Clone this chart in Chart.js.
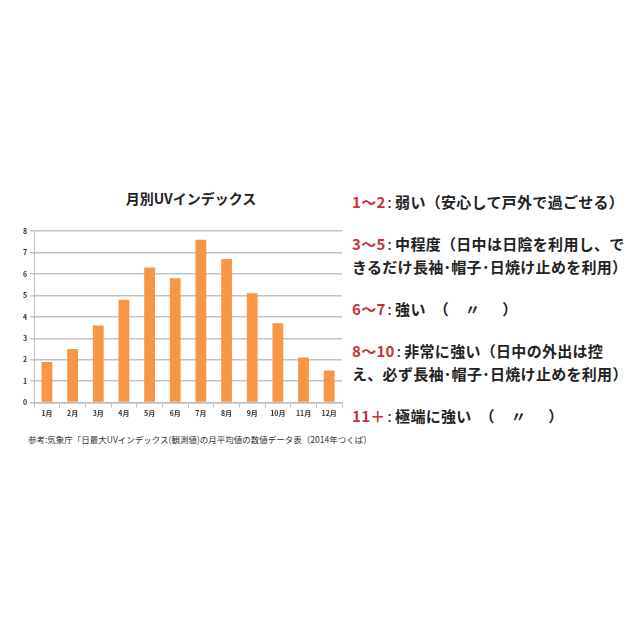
<!DOCTYPE html>
<html>
<head>
<meta charset="utf-8">
<script src="https://cdn.jsdelivr.net/npm/chart.js@4.4.0/dist/chart.umd.min.js"></script>
<style>
  body { margin: 0; background: #fff; font-family: "Noto Sans CJK JP", sans-serif; }
  #wrap { position: relative; width: 640px; height: 640px; }
  #title { position: absolute; left: 91px; top: 188px; width: 200px; text-align: center; font-size: 14px; font-weight: bold; color: #222; line-height: 20px; }
  #chartBox { position: absolute; left: 20px; top: 224px; width: 330px; height: 196px; }
  #source { position: absolute; left: 28px; top: 432px; font-size: 8.5px; color: #333; white-space: nowrap; line-height: 14px; }
  #notes { position: absolute; left: 352px; top: 190px; width: 290px; font-size: 15px; font-weight: bold; color: #222; line-height: 23px; letter-spacing: 0.3px; }
  #notes p { margin: 0 0 19px 0; white-space: nowrap; }
  #notes .n { color: #c9303c; }
  #notes .c { margin: 0 3px 0 2px; font-weight: normal; }
  #notes .g { display: inline-block; }
</style>
</head>
<body>
<div id="wrap">
  <div id="title"></div>
  <div id="chartBox"><canvas id="uvChart"></canvas></div>
  <div id="source"></div>
  <div id="notes">
    <p><span class="n">1～2</span><span class="c">:</span>弱い（安心して戸外で過ごせる）</p>
    <p><span class="n">3～5</span><span class="c">:</span>中程度（日中は日陰を利用し、で<br>きるだけ長袖･帽子･日焼け止めを利用）</p>
    <p><span class="n">6～7</span><span class="c">:</span>強い<span class="g" style="width:8px"></span>（<span class="g" style="width:16px"></span>〃<span class="g" style="width:22px"></span>）</p>
    <p><span class="n">8～10</span><span class="c">:</span>非常に強い（日中の外出は控<br>え、必ず長袖･帽子･日焼け止めを利用）</p>
    <p><span class="n">11＋</span><span class="c">:</span>極端に強い<span class="g" style="width:8px"></span>（<span class="g" style="width:16px"></span>〃<span class="g" style="width:22px"></span>）</p>
  </div>
</div>
<script>
// Monthly UV index data
const months = ['1月', '2月', '3月', '4月', '5月', '6月', '7月', '8月', '9月', '10月', '11月', '12月'];
const uvValues = [1.9, 2.5, 3.6, 4.8, 6.3, 5.8, 7.6, 6.7, 5.1, 3.7, 2.1, 1.5];
const yTicks = [0, 1, 2, 3, 4, 5, 6, 7, 8];

const chartTitle = '月別UVインデックス';
const sourceNote = '参考:気象庁「日最大UVインデックス(観測値)の月平均値の数値データ表（2014年つくば）';

function initChart() {
    document.getElementById('title').textContent = chartTitle;
    document.getElementById('source').textContent = sourceNote;

    const ctx = document.getElementById('uvChart').getContext('2d');
    new Chart(ctx, {
        type: 'bar',
        data: {
            labels: months,
            datasets: [{
                data: uvValues,
                backgroundColor: '#F79646',
                barPercentage: 0.42,
                categoryPercentage: 1.0
            }]
        },
        options: {
            responsive: true,
            maintainAspectRatio: false,
            animation: false,
            layout: { padding: { left: 0, right: 8, top: 2, bottom: 0 } },
            plugins: {
                legend: { display: false },
                tooltip: { enabled: false }
            },
            scales: {
                x: {
                    grid: { display: true, drawOnChartArea: false, color: '#bfbfbf', tickLength: 5, offset: true },
                    border: { color: '#bfbfbf', width: 1.5 },
                    ticks: { color: '#333', font: { family: 'Noto Sans CJK JP', size: 7, weight: 'bold' }, maxRotation: 0, padding: 2 }
                },
                y: {
                    min: 0,
                    max: 8,
                    afterBuildTicks: axis => { axis.ticks = yTicks.map(v => ({ value: v })); },
                    grid: { color: '#c4c4c4', lineWidth: 1.5, tickLength: 4 },
                    border: { color: '#bfbfbf', width: 1 },
                    ticks: { color: '#333', font: { family: 'Noto Sans CJK JP', size: 7, weight: 'bold' }, padding: 3 }
                }
            }
        }
    });
}

document.addEventListener('DOMContentLoaded', initChart);
</script>
</body>
</html>
